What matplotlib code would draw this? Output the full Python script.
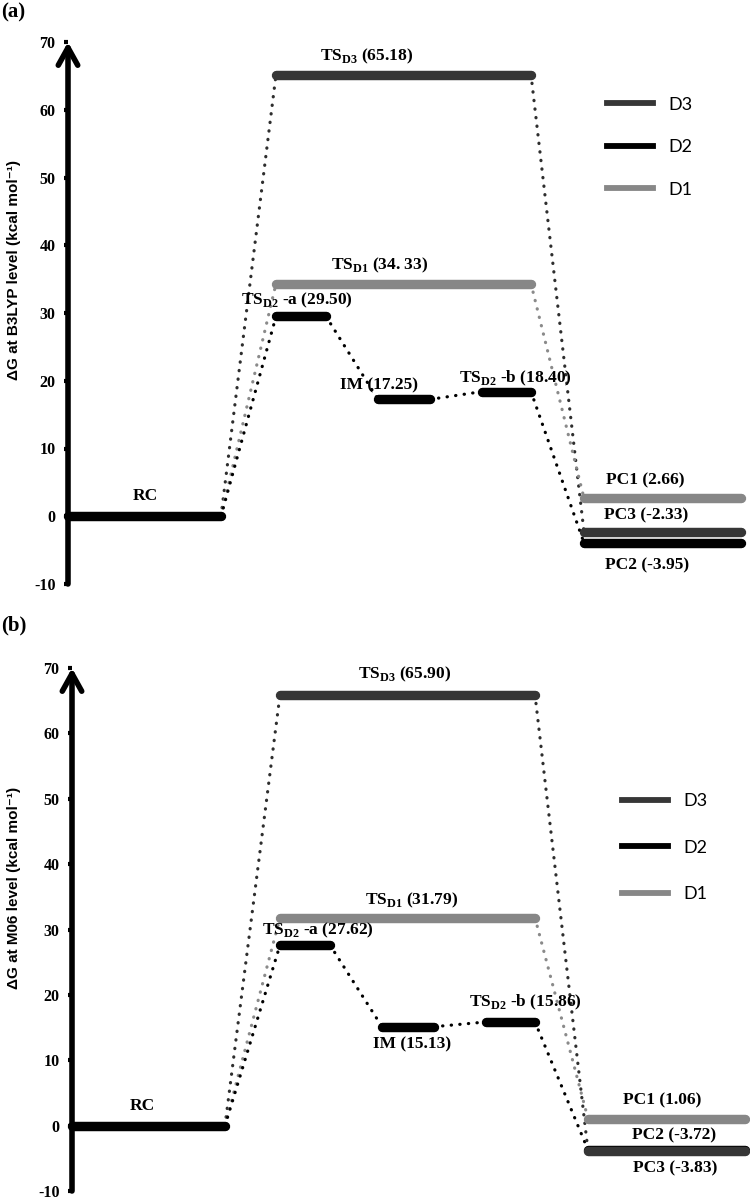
import matplotlib
matplotlib.use("Agg")
import matplotlib.pyplot as plt
from matplotlib.lines import Line2D

plt.rcParams['mathtext.fontset'] = 'custom'
plt.rcParams['mathtext.rm'] = 'Liberation Serif:bold'
plt.rcParams['mathtext.bf'] = 'Liberation Serif:bold'
plt.rcParams['axes.unicode_minus'] = False

# species on the profile and their free energies (kcal/mol)
species = ["RC", "TS_D3", "TS_D1", "TS_D2-a", "IM", "TS_D2-b", "PC1", "PC2", "PC3"]
g_b3lyp = [0.0, 65.18, 34.33, 29.50, 17.25, 18.40, 2.66, -3.95, -2.33]
g_m06 = [0.0, 65.90, 31.79, 27.62, 15.13, 15.86, 1.06, -3.72, -3.83]
txt_b3lyp = ["0", "65.18", "34. 33", "29.50", "17.25", "18.40", "2.66", "-3.95", "-2.33"]
txt_m06 = ["0", "65.90", "31.79", "27.62", "15.13", "15.86", "1.06", "-3.72", "-3.83"]

paths = ["D3", "D2", "D1"]
path_of = {"RC": "RC", "TS_D3": "D3", "TS_D1": "D1", "TS_D2-a": "D2", "IM": "D2",
           "TS_D2-b": "D2", "PC1": "D1", "PC2": "D2", "PC3": "D3"}
links = [("RC", "TS_D3"), ("RC", "TS_D1"), ("RC", "TS_D2-a"), ("TS_D2-a", "IM"),
         ("IM", "TS_D2-b"), ("TS_D2-b", "PC2"), ("TS_D3", "PC3"), ("TS_D1", "PC1")]

colors = {"RC": "black", "D3": "#363636", "D2": "black", "D1": "#878787"}
dot_colors = {"D3": "#2e2e2e", "D2": "black", "D1": "#8a8a8a"}

# horizontal spans of each level (px from the y axis)
span = {"RC": (0, 153), "TS_D3": (208, 463), "TS_D1": (208, 463), "TS_D2-a": (208, 258),
        "IM": (310, 362), "TS_D2-b": (414, 463), "PC1": (516, 673), "PC2": (516, 673),
        "PC3": (516, 673)}


def label_of(name, val):
    if name == "RC":
        return "RC"
    if name.startswith("TS_D2"):
        return r"TS$_{\mathbf{D2}}$ -%s (%s)" % (name[-1], val)
    if name.startswith("TS_"):
        return r"TS$_{\mathbf{%s}}$ (%s)" % (name[3:], val)
    return "%s (%s)" % (name, val)


# label placement: (x centre px, y offset px from level)
lab_a = {"RC": (77, 20), "TS_D3": (299, 18), "TS_D1": (312, 18), "TS_D2-a": (229, 16),
         "IM": (311, 14), "TS_D2-b": (447, 13), "PC1": (577, 18), "PC2": (579, -22),
         "PC3": (578, 17)}
lab_b = {"RC": (70, 20), "TS_D3": (333, 20), "TS_D1": (340, 17), "TS_D2-a": (246, 15),
         "IM": (340, -18), "TS_D2-b": (453, 20), "PC1": (590, 18), "PC2": (602, 15),
         "PC3": (603, -18)}

W, H = 750, 1202
fig = plt.figure(figsize=(W / 100, H / 100), dpi=100)


def panel(ax_left, y_top, y_bot, energies, texts, labpos, ylabel, letter, letter_y,
          leg_x, leg_mid, leg_space):
    width = W - ax_left
    ax = fig.add_axes([ax_left / W, 1 - y_bot / H, width / W, (y_bot - y_top) / H])
    ax.set_xlim(0, width)
    ax.set_ylim(-10, 70)
    ppu = (y_bot - y_top) / 80.0
    for s in ax.spines.values():
        s.set_visible(False)
    ax.set_xticks([])
    ax.set_yticks(range(-10, 71, 10))
    ax.tick_params(axis='y', length=3, width=3, pad=6, direction='out')
    for t in ax.get_yticklabels():
        t.set_family('Liberation Serif')
        t.set_fontweight('bold')
        t.set_fontsize(11.5)
    ax.annotate('', xy=(0, 70), xytext=(0, -10),
                arrowprops=dict(arrowstyle='->,head_length=0.9,head_width=0.5',
                                lw=4.0, color='black', shrinkA=0, shrinkB=0,
                                mutation_scale=14),
                annotation_clip=False)
    ax.set_ylabel(ylabel, family=['Liberation Sans', 'DejaVu Sans'],
                  fontweight='bold', fontsize=11)
    ax.yaxis.set_label_coords(-(ax_left - 21) / width, 0.58)

    e = dict(zip(species, energies))
    for a, b in links:
        p = path_of[b]
        ax.plot([span[a][1], span[b][0]], [e[a], e[b]], color=dot_colors[p],
                lw=2.3, linestyle=(0, (0.1, 2.6)), dash_capstyle='round',
                zorder=2, clip_on=False)
    for name in species:
        x0, x1 = span[name]
        ax.plot([x0, x1], [e[name], e[name]], color=colors[path_of[name]], lw=6.8,
                solid_capstyle='round', zorder=3, clip_on=False)
    for name, val in zip(species, texts):
        lx, dy = labpos[name]
        ax.text(lx, e[name] + dy / ppu, label_of(name, val), ha='center', va='center',
                family='Liberation Serif', fontweight='bold', fontsize=12.5, zorder=4)

    handles = [Line2D([], [], color=colors[p], lw=4.2) for p in paths]
    fs = 13
    ax.legend(handles, paths, loc='center left', bbox_to_anchor=(leg_x, leg_mid),
              bbox_transform=ax.transData, frameon=False, borderpad=0,
              borderaxespad=0, handlelength=46 / (fs * 1.389),
              handletextpad=15 / (fs * 1.389),
              labelspacing=(leg_space - 16.5) / (fs * 1.389),
              prop={'family': 'Lato', 'size': fs})
    fig.text(0.002, 1 - letter_y / H, letter, ha='left', va='center',
             family='Liberation Serif', fontweight='bold', fontsize=15)


panel(68, 42, 584, g_b3lyp, txt_b3lyp, lab_a,
      "\u0394G at B3LYP level (kcal mol\u207b\u00b9)", "(a)", 12, 539, 54.5, 43)
panel(72, 668, 1191, g_m06, txt_m06, lab_b,
      "\u0394G at M06 level (kcal mol\u207b\u00b9)", "(b)", 625, 550, 42.5, 47)

fig.savefig("out.png", dpi=100)
